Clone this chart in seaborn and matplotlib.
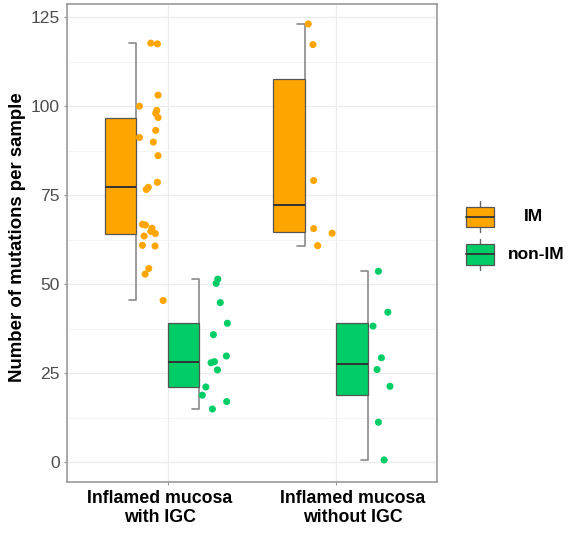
import numpy as np
import pandas as pd
import matplotlib
matplotlib.use("Agg")
import matplotlib.pyplot as plt
import matplotlib.transforms as mtransforms
from matplotlib.patches import Rectangle
import seaborn as sns

# ---- data -------------------------------------------------------------
groups = ["Inflamed mucosa\nwith IGC", "Inflamed mucosa\nwithout IGC"]
types = ["IM", "non-IM"]
palette = {"IM": "#FFA500", "non-IM": "#00CD66"}

im_with_igc = [117.7, 117.5, 103.1, 100.0, 98.8, 98.0, 96.8, 93.2, 91.2, 89.9,
               86.1, 78.6, 77.2, 76.6, 66.8, 66.6, 65.7, 64.8, 64.2, 63.5,
               60.9, 60.7, 54.4, 52.8, 45.4]
nonim_with_igc = [51.4, 50.2, 44.8, 39.0, 35.8, 29.8, 27.9, 28.2, 25.9, 21.1,
                  18.8, 17.0, 14.9]
im_without_igc = [123.1, 117.3, 79.1, 65.6, 64.3, 60.8]
nonim_without_igc = [53.6, 42.1, 38.2, 29.3, 26.0, 21.3, 11.2, 0.6]

# horizontal jitter of each point, to the right of its half box
jit_im_with = [0.086, 0.125, 0.129, 0.018, 0.121, 0.115, 0.129, 0.115, 0.018,
               0.101, 0.129, 0.125, 0.071, 0.059, 0.036, 0.054, 0.093, 0.086,
               0.113, 0.046, 0.036, 0.111, 0.074, 0.052, 0.159]
jit_nonim_with = [0.109, 0.099, 0.124, 0.166, 0.083, 0.160, 0.069, 0.089,
                  0.107, 0.038, 0.017, 0.162, 0.077]
jit_im_without = [0.022, 0.050, 0.054, 0.054, 0.164, 0.078]
jit_nonim_without = [0.064, 0.120, 0.032, 0.082, 0.056, 0.133, 0.064, 0.098]

series = {
    (0, "IM"): (im_with_igc, jit_im_with),
    (0, "non-IM"): (nonim_with_igc, jit_nonim_with),
    (1, "IM"): (im_without_igc, jit_im_without),
    (1, "non-IM"): (nonim_without_igc, jit_nonim_without),
}

DODGE = 0.1875      # offset of each half box from the group centre
HALF_W = 0.1875     # width of a half box
CAP_W = 0.042

rows = []
for (gi, t), (vals, jit) in series.items():
    pos = gi + (-DODGE if t == "IM" else DODGE)
    for v, j in zip(vals, jit):
        rows.append({"group": groups[gi], "type": t, "value": v, "x": pos + j})
df = pd.DataFrame(rows)

# ---- figure -----------------------------------------------------------
sns.set_theme(style="white")
plt.rcParams["font.family"] = ["Liberation Sans", "DejaVu Sans"]

W, H = 575, 535
fig = plt.figure(figsize=(W / 100, H / 100), dpi=100)
ax = fig.add_axes([67 / W, 1 - 482 / H, 370 / W, 478 / H])

grid_major = "#EBEBEB"
grid_minor = "#F3F3F3"
ax.set_xlim(-0.6, 1.6)
ax.set_ylim(-5.6, 128.7)
ax.set_yticks([0, 25, 50, 75, 100, 125])
ax.set_yticks(np.arange(12.5, 125, 25), minor=True)
ax.set_xticks([0, 1])
ax.set_xticklabels(groups)
ax.grid(True, which="major", color=grid_major, lw=0.9, zorder=0)
ax.grid(True, which="minor", axis="y", color=grid_minor, lw=0.6, zorder=0)
ax.set_axisbelow(True)

# half boxplots: box on the left, whisker along its right edge
for (gi, t), (vals, _) in series.items():
    v = np.asarray(vals)
    pos = gi + (-DODGE if t == "IM" else DODGE)
    q1, med, q3 = np.percentile(v, [25, 50, 75])
    iqr = q3 - q1
    hi = v[v <= q3 + 1.5 * iqr].max()
    lo = v[v >= q1 - 1.5 * iqr].min()
    ax.plot([pos, pos], [lo, hi], color="#8A8A8A", lw=1.2, zorder=2,
            solid_capstyle="butt")
    ax.plot([pos - CAP_W, pos], [hi, hi], color="#8A8A8A", lw=1.2, zorder=2)
    ax.plot([pos - CAP_W, pos], [lo, lo], color="#8A8A8A", lw=1.2, zorder=2)
    ax.add_patch(Rectangle((pos - HALF_W, q1), HALF_W, q3 - q1,
                           facecolor=palette[t], edgecolor="#555555",
                           lw=0.9, zorder=3))
    ax.plot([pos - HALF_W, pos], [med, med], color="#333333", lw=1.4,
            zorder=4, solid_capstyle="butt")

sns.scatterplot(data=df, x="x", y="value", hue="type", palette=palette,
                s=26, linewidth=0, legend=False, ax=ax, zorder=5)

ax.set_xlabel("")
ax.set_ylabel("Number of mutations per sample", fontsize=13.4,
              fontweight="bold", color="black")
ax.yaxis.set_label_coords(-0.11, 0.513)

for sp in ax.spines.values():
    sp.set_visible(True)
    sp.set_color("#9A9A9A")
    sp.set_linewidth(1.2)

ax.tick_params(axis="y", which="major", length=2.5, width=0.8,
               color="#9A9A9A", labelsize=12.6, labelcolor="#4D4D4D", pad=2.5,
               left=True)
ax.tick_params(axis="y", which="minor", length=0)
ax.tick_params(axis="x", which="major", length=2.5, width=0.8,
               color="#9A9A9A", labelsize=12.8, labelcolor="black", pad=3,
               bottom=True)
label_shift = [-8, 17]
for lab, dx in zip(ax.get_xticklabels(), label_shift):
    lab.set_fontweight("bold")
    lab.set_linespacing(1.15)
    lab.set_transform(lab.get_transform() +
                      mtransforms.ScaledTranslation(dx / 100, 0,
                                                    fig.dpi_scale_trans))

# ---- legend -----------------------------------------------------------
lax = fig.add_axes([455 / W, 1 - 285 / H, 120 / W, 95 / H])
lax.set_xlim(455, 575)
lax.set_ylim(285, 190)
lax.axis("off")
key_x0, key_x1 = 466, 494
for t, cy, tx in [("IM", 217, 533), ("non-IM", 254.5, 536)]:
    cx = (key_x0 + key_x1) / 2
    lax.plot([cx, cx], [cy - 15.5, cy + 15.5], color="#666666", lw=1.0)
    lax.add_patch(Rectangle((key_x0, cy - 10.3), key_x1 - key_x0, 20.6,
                            facecolor=palette[t], edgecolor="#555555",
                            lw=0.9, zorder=3))
    lax.plot([key_x0, key_x1], [cy, cy], color="#333333", lw=1.3, zorder=4)
    lax.text(tx, cy, t, ha="center", va="center", fontsize=12.5,
             fontweight="bold", color="black")

fig.savefig("out.png", dpi=100)
